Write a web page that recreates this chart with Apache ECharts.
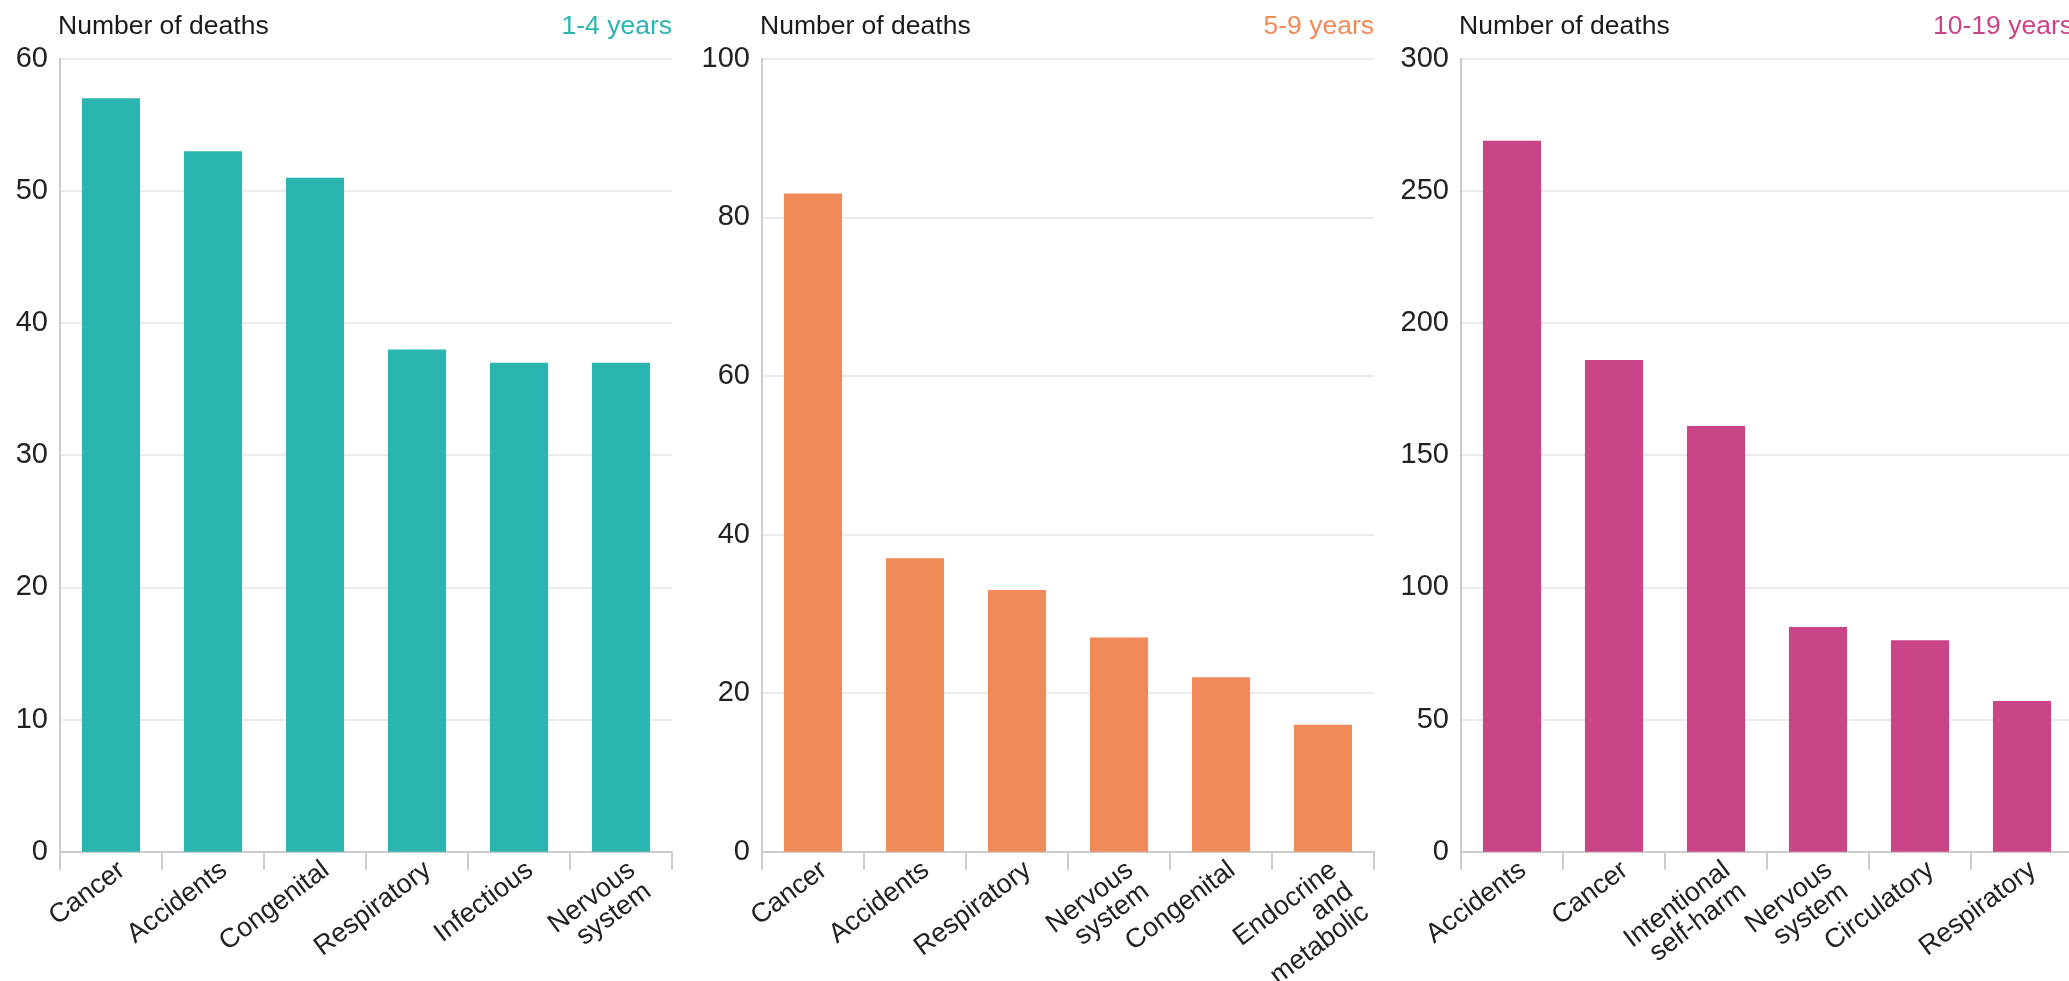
<!DOCTYPE html>
<html>
<head>
<meta charset="utf-8">
<script src="https://cdn.jsdelivr.net/npm/echarts@6/dist/echarts.min.js"></script>
<style>
html,body{margin:0;padding:0;background:#fff;}
#c{width:2069px;height:981px;}
</style>
</head>
<body>
<div id="c"></div>
<script>
// Data
const cats1 = ['Cancer','Accidents','Congenital','Respiratory','Infectious','Nervous\nsystem'];
const vals1 = [57,53,51,38,37,37];
const cats2 = ['Cancer','Accidents','Respiratory','Nervous\nsystem','Congenital','Endocrine\nand\nmetabolic'];
const vals2 = [83,37,33,27,22,16];
const cats3 = ['Accidents','Cancer','Intentional\nself-harm','Nervous\nsystem','Circulatory','Respiratory'];
const vals3 = [269,186,161,85,80,57];
const ageLabels = ['1-4 years','5-9 years','10-19 years'];
const yTitle = 'Number of deaths';
const yMax = [60,100,300];
const yStep = [10,20,50];

const colors = ['#2bb5b0','#f18a59','#c94588'];
const FONT = '"Liberation Sans", Arial, Helvetica, sans-serif';
const gridsLeft = [60,762,1461];
const gridW = 612;
const W = 2069;
const catsAll = [cats1,cats2,cats3];
const valsAll = [vals1,vals2,vals3];

const option = {
  animation:false,
  backgroundColor:'#fff',
  title:[], grid:[], xAxis:[], yAxis:[], series:[]
};
for(let i=0;i<3;i++){
  const left = gridsLeft[i];
  const right = W - (left + gridW);
  option.title.push({text:yTitle,left:left-2,top:8,padding:[5,0,5,0],textStyle:{fontFamily:FONT,fontSize:26.5,fontWeight:'normal',color:'#1a1a1a'}});
  option.title.push({text:ageLabels[i],right:right,top:8,padding:[5,0,5,0],textStyle:{fontFamily:FONT,fontSize:26.5,fontWeight:'normal',color:colors[i]}});
  option.grid.push({left:left,right:right,top:58.7,bottom:129.3,containLabel:false,outerBoundsMode:'none'});
  option.xAxis.push({
    type:'category',gridIndex:i,data:catsAll[i],
    axisLine:{show:true,lineStyle:{color:'#cccccc',width:2}},
    axisTick:{show:true,length:18,lineStyle:{color:'#cccccc',width:2}},
    axisLabel:{interval:0,rotate:37,fontFamily:FONT,fontSize:27,color:'#222',margin:1,lineHeight:26.5,verticalAlign:'top',padding:[5,0,0,0]}
  });
  option.yAxis.push({
    type:'value',gridIndex:i,min:0,max:yMax[i],interval:yStep[i],
    axisLine:{show:true,lineStyle:{color:'#cccccc',width:2}},
    axisTick:{show:false},
    splitLine:{show:true,lineStyle:{color:'#ebebeb',width:2}},
    axisLabel:{fontFamily:FONT,fontSize:29,color:'#222',margin:12}
  });
  option.series.push({
    type:'bar',xAxisIndex:i,yAxisIndex:i,data:valsAll[i],barWidth:'57%',
    itemStyle:{color:colors[i]},silent:true
  });
}
const chart = echarts.init(document.getElementById('c'),null,{renderer:'canvas'});
chart.setOption(option);
</script>
</body>
</html>
